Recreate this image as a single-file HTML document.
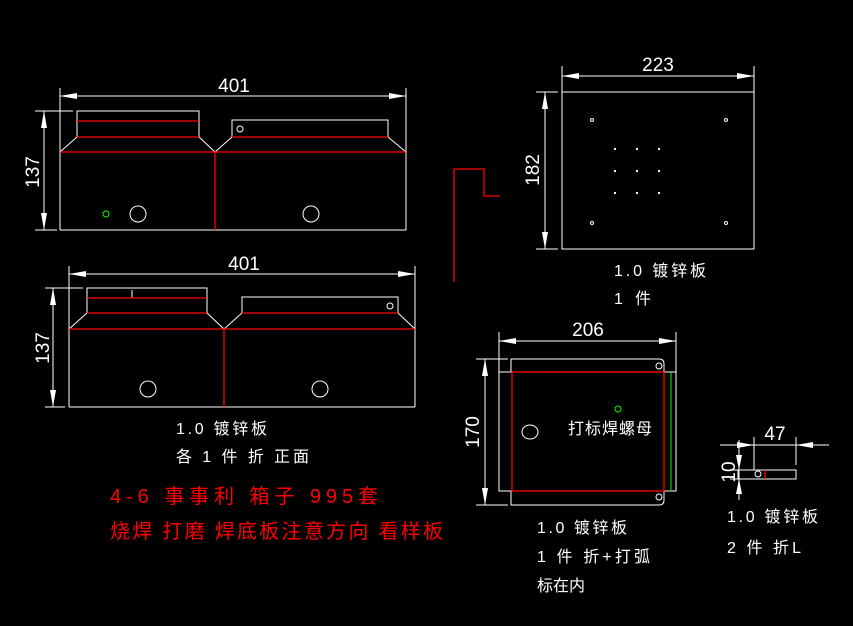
<!DOCTYPE html>
<html><head><meta charset="utf-8"><style>
html,body{margin:0;padding:0;background:#000;width:853px;height:626px;overflow:hidden}
svg{display:block}
text{font-family:"Liberation Sans","Noto Sans CJK SC",sans-serif;}
</style></head><body>
<svg width="853" height="626" viewBox="0 0 853 626" xmlns="http://www.w3.org/2000/svg">
<rect width="853" height="626" fill="#000"/>
<g stroke="#fff" stroke-width="1" fill="none">
<line x1="60" y1="88" x2="60" y2="230"/>
<line x1="406" y1="88" x2="406" y2="152"/>
<line x1="60" y1="96" x2="406" y2="96"/>
<line x1="35" y1="111" x2="73" y2="111"/>
<line x1="35" y1="230" x2="57" y2="230"/>
<line x1="44" y1="111" x2="44" y2="230"/>
<rect x="77" y="111" width="122" height="26"/>
<rect x="232" y="120" width="156" height="17"/>
<line x1="77" y1="137" x2="60" y2="152"/>
<line x1="199" y1="137" x2="215" y2="152"/>
<line x1="215" y1="152" x2="232" y2="137"/>
<line x1="388" y1="137" x2="406" y2="152"/>
<line x1="60" y1="230" x2="406" y2="230"/>
<line x1="406" y1="152" x2="406" y2="230"/>
<circle cx="138" cy="214" r="8"/>
<circle cx="311" cy="214" r="8"/>
<circle cx="240" cy="129" r="3"/>
<line x1="69" y1="266" x2="69" y2="407"/>
<line x1="415" y1="266" x2="415" y2="329"/>
<line x1="69" y1="274" x2="415" y2="274"/>
<line x1="45" y1="288" x2="83" y2="288"/>
<line x1="45" y1="407" x2="65" y2="407"/>
<line x1="53" y1="288" x2="53" y2="407"/>
<rect x="87" y="288" width="120" height="25"/>
<rect x="242" y="297" width="156" height="16"/>
<line x1="87" y1="313" x2="69" y2="329"/>
<line x1="207" y1="313" x2="224" y2="329"/>
<line x1="224" y1="329" x2="242" y2="313"/>
<line x1="398" y1="313" x2="415" y2="329"/>
<line x1="69" y1="407" x2="415" y2="407"/>
<line x1="415" y1="329" x2="415" y2="407"/>
<circle cx="148" cy="389" r="8"/>
<circle cx="320" cy="389" r="8"/>
<circle cx="390" cy="306" r="3"/>
<line x1="132" y1="290" x2="132" y2="298"/>
<line x1="562" y1="66" x2="562" y2="92"/>
<line x1="754" y1="66" x2="754" y2="92"/>
<line x1="562" y1="76" x2="754" y2="76"/>
<rect x="562" y="92" width="192" height="157"/>
<line x1="536" y1="92" x2="558" y2="92"/>
<line x1="536" y1="249" x2="558" y2="249"/>
<line x1="545" y1="92" x2="545" y2="249"/>
<circle cx="592" cy="120" r="1.5"/><circle cx="726" cy="120" r="1.5"/>
<circle cx="592" cy="223" r="1.5"/><circle cx="726" cy="223" r="1.5"/>
<line x1="499" y1="332" x2="499" y2="372"/>
<line x1="676" y1="332" x2="676" y2="372"/>
<line x1="499" y1="341" x2="676" y2="341"/>
<path d="M511 372 V359 H659 Q664 359 664 364 V372"/>
<rect x="499" y="372" width="177" height="119"/>
<path d="M511 491 V505 H659 Q664 505 664 500 V491"/>
<line x1="476" y1="359" x2="508" y2="359"/>
<line x1="476" y1="505" x2="508" y2="505"/>
<line x1="485" y1="359" x2="485" y2="505"/>
<circle cx="659" cy="366" r="3"/>
<circle cx="659" cy="497" r="3"/>
<ellipse cx="530" cy="432" rx="8" ry="7"/>
<line x1="720" y1="445" x2="829" y2="445"/>
<line x1="754" y1="437" x2="754" y2="470"/>
<line x1="796" y1="437" x2="796" y2="465"/>
<line x1="739" y1="440" x2="739" y2="500"/>
<line x1="730" y1="470" x2="738" y2="470"/>
<line x1="730" y1="479" x2="738" y2="479"/>
<rect x="738" y="470" width="58" height="9"/>
<circle cx="758" cy="474" r="3"/>
</g>
<g fill="#fff">
<path d="M60 96 L77 93 L77 99Z"/><path d="M406 96 L389 93 L389 99Z"/>
<path d="M44 111 L41 128 L47 128Z"/><path d="M44 230 L41 213 L47 213Z"/>
<path d="M69 274 L86 271 L86 277Z"/><path d="M415 274 L398 271 L398 277Z"/>
<path d="M53 288 L50 305 L56 305Z"/><path d="M53 407 L50 390 L56 390Z"/>
<path d="M562 76 L579 73 L579 79Z"/><path d="M754 76 L737 73 L737 79Z"/>
<path d="M545 92 L542 109 L548 109Z"/><path d="M545 249 L542 232 L548 232Z"/>
<path d="M499 341 L516 338 L516 344Z"/><path d="M676 341 L659 338 L659 344Z"/>
<path d="M485 359 L482 376 L488 376Z"/><path d="M485 505 L482 488 L488 488Z"/>
<path d="M754 445 L737 442 L737 448Z"/><path d="M796 445 L813 442 L813 448Z"/>
<path d="M739 470 L736 455 L742 455Z"/><path d="M739 479 L736 494 L742 494Z"/>
<rect x="614" y="148" width="2" height="2"/><rect x="636" y="148" width="2" height="2"/><rect x="658" y="148" width="2" height="2"/>
<rect x="614" y="170" width="2" height="2"/><rect x="636" y="170" width="2" height="2"/><rect x="658" y="170" width="2" height="2"/>
<rect x="614" y="192" width="2" height="2"/><rect x="636" y="192" width="2" height="2"/><rect x="658" y="192" width="2" height="2"/>
</g>
<g stroke="#f00" stroke-width="1.3" fill="none">
<line x1="77" y1="121" x2="199" y2="121"/>
<line x1="77" y1="137" x2="199" y2="137"/>
<line x1="232" y1="137" x2="388" y2="137"/>
<line x1="60" y1="152" x2="406" y2="152"/>
<line x1="215" y1="152" x2="215" y2="230"/>
<line x1="87" y1="298" x2="207" y2="298"/>
<line x1="87" y1="313" x2="207" y2="313"/>
<line x1="242" y1="313" x2="398" y2="313"/>
<line x1="69" y1="329" x2="415" y2="329"/>
<line x1="224" y1="329" x2="224" y2="407"/>
<path d="M454 282 V169 H484 V196 H500"/>
<rect x="512" y="372" width="152" height="119"/>
<line x1="765" y1="470" x2="765" y2="479"/>
</g>
<g stroke="#0f0" stroke-width="1" fill="none">
<circle cx="106" cy="214" r="3"/>
<circle cx="618" cy="409" r="3"/>
<line x1="671" y1="372" x2="671" y2="491"/>
</g>
<g fill="#fff" font-size="19">
<text x="234" y="92" text-anchor="middle">401</text>
<text x="244" y="270" text-anchor="middle">401</text>
<text x="658" y="71" text-anchor="middle">223</text>
<text x="588" y="336" text-anchor="middle">206</text>
<text x="775" y="440" text-anchor="middle">47</text>
<text transform="translate(39,172) rotate(-90)" text-anchor="middle">137</text>
<text transform="translate(49,348) rotate(-90)" text-anchor="middle">137</text>
<text transform="translate(539,170) rotate(-90)" text-anchor="middle">182</text>
<text transform="translate(479,432) rotate(-90)" text-anchor="middle">170</text>
<text transform="translate(735,472) rotate(-90)" text-anchor="middle">10</text>
</g>
<g fill="#fff" font-size="16">
<text x="614" y="276" textLength="92" lengthAdjust="spacing">1.0 镀锌板</text>
<text x="614" y="304" textLength="37" lengthAdjust="spacing">1 件</text>
<text x="568" y="434" textLength="84" lengthAdjust="spacing">打标焊螺母</text>
<text x="176" y="434" textLength="91" lengthAdjust="spacing">1.0 镀锌板</text>
<text x="176" y="462" textLength="133" lengthAdjust="spacing">各 1 件 折 正面</text>
<text x="537" y="533" textLength="90" lengthAdjust="spacing">1.0 镀锌板</text>
<text x="537" y="562" textLength="113" lengthAdjust="spacing">1 件 折+打弧</text>
<text x="537" y="591" textLength="48" lengthAdjust="spacing">标在内</text>
<text x="727" y="522" textLength="91" lengthAdjust="spacing">1.0 镀锌板</text>
<text x="727" y="553" textLength="74" lengthAdjust="spacing">2 件 折L</text>
</g>
<g fill="#f00" font-size="20">
<text x="110" y="503" textLength="268" lengthAdjust="spacing">4-6 事事利 箱子 995套</text>
<text x="110" y="538" textLength="333" lengthAdjust="spacing">烧焊 打磨 焊底板注意方向 看样板</text>
</g>
</svg>
</body></html>
